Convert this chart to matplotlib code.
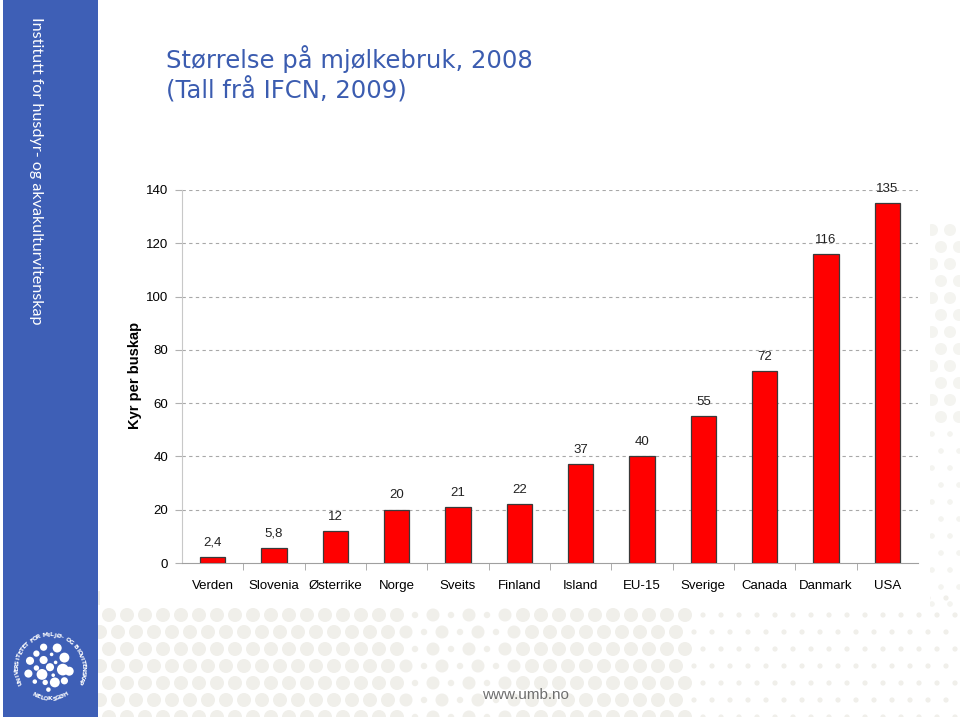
import numpy as np
import matplotlib
matplotlib.use("Agg")
import matplotlib.pyplot as plt
from matplotlib.patches import Rectangle, Circle

# --- data ---
countries = ["Verden", "Slovenia", "Østerrike", "Norge", "Sveits", "Finland",
             "Island", "EU-15", "Sverige", "Canada", "Danmark", "USA"]
cows_per_herd = [2.4, 5.8, 12, 20, 21, 22, 37, 40, 55, 72, 116, 135]
y_ticks = [0, 20, 40, 60, 80, 100, 120, 140]

TITLE = "Størrelse på mjølkebruk, 2008\n(Tall frå IFCN, 2009)"
SIDE_TEXT = "Institutt for husdyr- og akvakulturvitenskap"
UMB_BLUE = "#3e5fb6"
TITLE_BLUE = "#3b5cb0"
PATTERN = "#f0efea"
PATTERN_LIGHT = "#f4f4f0"

W, H = 960, 717
fig = plt.figure(figsize=(W / 100, H / 100), dpi=100)
fig.patch.set_facecolor("white")

# --- background slide (pixel coordinates) ---
bg = fig.add_axes([0, 0, 1, 1], zorder=0)
bg.set_xlim(0, W)
bg.set_ylim(H, 0)
bg.axis("off")

# dotted pattern behind the white panel
for j, yy in enumerate(np.arange(598, H + 10, 17)):
    off = 9 if j % 2 else 0
    for xx in np.arange(100 + off, W + 10, 18):
        if 520 < xx < 690 or xx < 400:
            r = 7
        elif xx >= 690:
            r = 2.6
        else:
            r = 3.2 if (int(xx) // 18) % 2 else 6.5
        bg.add_patch(Circle((xx, yy), r, color=PATTERN, lw=0))
for j, yy in enumerate(np.arange(230, 610, 17)):
    off = 9 if j % 2 else 0
    for xx in np.arange(932 + off, W + 10, 18):
        bg.add_patch(Circle((xx, yy), 2.8 if yy > 420 else 6, color=PATTERN_LIGHT, lw=0))

bg.add_patch(Rectangle((100, 0), 830, 606, color="white", lw=0))
bg.add_patch(Rectangle((930, 0), 30, 220, color="white", lw=0))

# blue side bar
bg.add_patch(Rectangle((3, 0), 95, H, color=UMB_BLUE, lw=0))
bg.text(36, 17, SIDE_TEXT, rotation=-90, ha="center", va="top", color="white",
        fontsize=11.6, family="Lato")

# logo
cx, cy = 50, 668
dots = [(-8, -26, 4), (9, -25, 5), (-17, -18, 3.5), (2, -17, 2), (18, -13, 5.5),
        (-25, -9, 4.5), (-8, -10, 4.5), (7, -7, 2), (-17, 0, 3), (0, -1, 4.5),
        (16, 2, 6.5), (-27, 7, 4.5), (-10, 8, 6), (4, 9, 2), (24, 4, 5),
        (-19, 17, 2.5), (6, 18, 5.5), (-2, 27, 2.5), (18, 16, 4), (-6, 18, 3)]
for dx, dy, r in dots:
    bg.add_patch(Circle((cx + dx * 0.8, cy + dy * 0.8), r * 0.9, color="white", lw=0))
ring = "UNIVERSITETET FOR MILJØ- OG BIOVITENSKAP"
angles = np.linspace(205, -25, len(ring))
for ch, a in zip(ring, angles):
    t = np.radians(a)
    bg.text(cx + 33 * np.cos(t), cy - 33 * np.sin(t), ch, rotation=a - 90,
            ha="center", va="center", color="white", fontsize=4.4, fontweight="bold")
ring2 = "HØGSKOLEN"
angles2 = np.linspace(-60, -120, len(ring2))
for ch, a in zip(ring2, angles2):
    t = np.radians(a)
    bg.text(cx + 31 * np.cos(t), cy - 31 * np.sin(t), ch, rotation=a + 90,
            ha="center", va="center", color="white", fontsize=4.4, fontweight="bold")

# title and footer
bg.text(166, 45, TITLE, ha="left", va="top", color=TITLE_BLUE, fontsize=17.5,
        linespacing=1.2, family="DejaVu Sans")
bg.text(482, 695, "www.umb.no", ha="left", va="center", color="#6e6e6e",
        fontsize=11, family="Liberation Sans")

# --- chart ---
ax = fig.add_axes([182 / W, 1 - 563 / H, (918 - 182) / W, (563 - 190) / H], zorder=2)
ax.patch.set_alpha(0)
x = np.arange(len(countries))
bars = ax.bar(x, cows_per_herd, width=0.41, color="#ff0000",
              edgecolor="#3a3a3a", linewidth=0.9, zorder=3)
for b, v in zip(bars, cows_per_herd):
    lab = f"{v:g}".replace(".", ",")
    ax.annotate(lab, (b.get_x() + b.get_width() / 2, v), xytext=(0, 6),
                textcoords="offset points", ha="center", va="bottom",
                fontsize=9.5, color="#222222", family="Liberation Sans")

ax.set_xlim(-0.5, len(countries) - 0.5)
ax.set_ylim(0, 140)
ax.set_yticks(y_ticks)
ax.set_yticklabels([str(t) for t in y_ticks], fontsize=9.5, family="Liberation Sans")
ax.set_xticks(x)
ax.set_xticklabels(countries, fontsize=9.5, family="Liberation Sans")
ax.set_xticks(np.arange(0.5, len(countries) - 1, 1), minor=True)
ax.tick_params(axis="x", which="major", length=0, pad=12)
ax.tick_params(axis="x", which="minor", length=5, color="#a0a0a0", direction="out")
ax.tick_params(axis="y", length=5, color="#b0b0b0", pad=5)

for t in y_ticks[1:]:
    ax.axhline(t, color="#a8a8a8", lw=0.8, dashes=(3, 3), zorder=1)

for s in ["top", "right"]:
    ax.spines[s].set_visible(False)
ax.spines["left"].set_color("#c8c8c8")
ax.spines["bottom"].set_color("#a0a0a0")

bg.text(135, 375, "Kyr per buskap", rotation=90, ha="center", va="center",
        fontsize=10.5, fontweight="bold", family="Liberation Sans", color="black")

fig.savefig("out.png", dpi=100, facecolor="white")
